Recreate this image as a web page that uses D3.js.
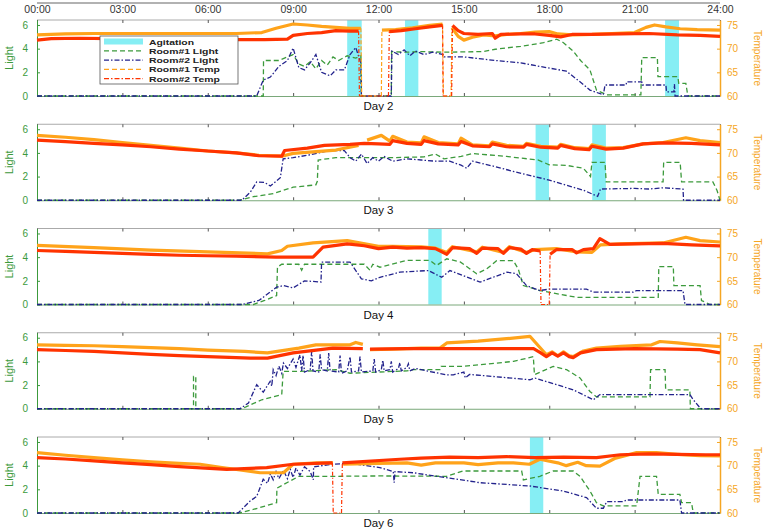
<!DOCTYPE html>
<html>
<head>
<meta charset="utf-8">
<script src="https://d3js.org/d3.v7.min.js"></script>
<style>
body { margin: 0; background: #fff; }
text { font-family: "Liberation Sans", Arial, sans-serif; }
</style>
</head>
<body>
<div id="chart"></div>
<script>

// hour ticks along the top
const hourTicks = [0, 3, 6, 9, 12, 15, 18, 21, 24];
const hourLabels = ["00:00", "03:00", "06:00", "09:00", "12:00", "15:00", "18:00", "21:00", "24:00"];
const lightTicks = [0, 2, 4, 6];
const tempTicks = [60, 65, 70, 75];
const dayNames = ["Day 2", "Day 3", "Day 4", "Day 5", "Day 6"];
const legendNames = ["Agitation", "Room#1 Light", "Room#2 Light", "Room#1 Temp", "Room#2 Temp"];

// [hour, value]  light in sensor units, temp in F (60 = dropout)
const day2Light1 = [[0,0],[7.95,0],[7.96,3.0],[8.5,3.0],[8.8,3.3],[9.0,3.5],[9.2,2.7],[9.4,2.5],[9.6,2.9],[9.8,2.3],[10.0,3.0],[10.2,2.6],[10.4,3.3],[10.6,3.0],[10.9,3.4],[11.2,3.2],[11.38,3.4],[11.4,0],[12.45,0],[12.46,3.75],[13.0,3.7],[13.5,3.75],[14.28,3.7],[15.68,3.75],[16.1,3.95],[17.0,4.2],[17.8,4.5],[18.26,4.8],[18.5,4.5],[18.84,3.8],[19.1,3.0],[19.43,2.2],[19.66,0.5],[20.02,0.1],[21.22,0.1],[21.25,3.24],[21.8,3.24],[21.82,1.63],[22.52,1.63],[22.55,1.07],[22.8,1.07],[22.87,0],[24,0]];
const day2Light2 = [[0,0],[7.72,0],[7.95,1.35],[8.2,1.6],[8.5,2.5],[8.8,3.0],[9.0,4.05],[9.2,2.4],[9.4,2.2],[9.6,2.8],[9.8,3.5],[10.0,2.0],[10.3,1.7],[10.5,2.2],[10.8,2.2],[11.0,3.5],[11.2,4.1],[11.38,2.8],[11.4,0],[12.45,0],[12.47,3.8],[12.7,3.5],[12.9,3.9],[13.1,3.4],[13.3,3.8],[13.6,3.5],[13.9,3.7],[14.28,3.5],[14.3,3.3],[15.0,3.3],[16.1,3.0],[17.0,2.8],[17.67,2.5],[18.6,2.1],[19.08,1.2],[19.43,0.5],[19.9,0.1],[19.96,0.93],[20.7,0.93],[20.72,1.2],[21.25,1.2],[21.27,0.93],[22.1,0.93],[22.12,0.35],[22.38,0.35],[22.4,1.0],[22.42,0],[24,0]];
const day2Temp1 = [[0,72.9],[1,73.1],[2,73.2],[3,73.2],[4,73.2],[5,73.2],[6,73.2],[7,73.2],[7.9,73.4],[8.4,74.3],[9,75.2],[9.5,75.0],[10,74.7],[10.5,74.5],[11,74.3],[11.38,74.3],[11.41,60],[12.1,60],[12.12,73.9],[12.6,74.0],[13.2,74.4],[13.8,74.9],[14.25,75.2],[14.28,60],[14.55,60],[14.58,74.4],[14.8,72.6],[15.0,71.8],[15.3,72.4],[15.7,72.9],[16.1,72.7],[16.5,73.0],[17,73.2],[17.5,73.5],[18.0,73.6],[18.3,73.1],[18.8,72.9],[19.5,73.0],[20.2,73.2],[21,73.4],[21.4,74.5],[21.7,75.0],[22.1,74.6],[22.6,74.2],[23.2,74.0],[24,73.9]];
const day2Temp2 = [[0,71.8],[0.5,72.1],[1.5,72.2],[2.5,72.1],[3.5,72.2],[4.5,72.2],[5.5,72.2],[6.5,72.2],[7.0,71.9],[8.0,71.9],[8.8,72.0],[9.0,72.8],[9.5,73.2],[10,73.4],[10.5,73.8],[11.0,73.7],[11.3,73.7],[11.33,60],[12.35,60],[12.38,73.6],[12.8,73.8],[13.3,74.2],[13.8,74.6],[14.25,74.9],[14.27,60],[14.57,60],[14.6,74.9],[14.8,73.8],[15.0,73.2],[15.5,73.0],[16.0,73.2],[16.1,72.2],[16.3,73.0],[17,73.1],[17.5,73.1],[18.0,72.8],[18.4,72.5],[18.8,73.0],[19.5,73.0],[20.5,73.1],[21.5,73.2],[22.5,72.9],[23.3,72.8],[24,72.6]];
const day2Agitation = [[10.9,11.41],[12.93,13.4],[22.07,22.56]];

const day3Light1 = [[0,0],[7.13,0],[7.6,0.3],[8.3,0.56],[9.0,1.1],[9.8,1.3],[9.85,1.6],[9.88,3.4],[10.5,3.6],[11.5,3.6],[12.5,3.6],[13.6,3.66],[14.0,3.9],[14.3,3.5],[14.9,3.7],[15.3,3.95],[16.5,3.7],[17.6,3.4],[18.0,3.0],[18.6,2.95],[19.2,2.7],[19.45,2.0],[19.5,3.2],[19.96,3.2],[20.0,1.55],[22.0,1.55],[22.02,3.2],[22.6,3.2],[22.65,1.55],[23.75,1.55],[23.9,0.8],[24,0]];
const day3Light2 = [[0,0],[7.2,0],[7.5,0.7],[7.72,1.55],[8.0,1.5],[8.2,1.2],[8.55,1.9],[8.65,3.5],[9,3.6],[9.5,3.8],[10.3,4.2],[10.8,4.2],[11.0,3.6],[11.2,3.3],[11.4,3.9],[11.6,3.1],[11.8,3.6],[12.0,3.3],[12.2,3.7],[12.5,3.3],[13.0,3.5],[13.5,3.4],[14.0,3.3],[14.5,3.3],[14.9,2.96],[15.1,2.7],[15.3,3.3],[16.0,2.9],[16.8,2.4],[18.0,1.7],[19.2,0.85],[19.7,0.33],[19.8,0.95],[21.0,1.0],[21.5,0.95],[22.0,1.05],[22.7,0.95],[22.72,0],[24,0]];
const day3Temp1 = [[0,73.7],[1,73.3],[2,72.8],[3,72.2],[4,71.6],[5,71.0],[6,70.4],[7,70.0],[7.8,69.5],[8.6,69.3],[9,69.9],[10.5,70.6],[11.3,71.6],[11.4,null],[11.6,72.7],[12.1,73.7],[12.4,72.5],[12.5,73.5],[13.0,72.3],[13.5,72.1],[13.6,73.4],[14.1,72.2],[14.8,71.9],[14.9,73.1],[15.3,71.7],[15.9,71.5],[16.0,72.3],[16.5,71.6],[17.1,71.4],[17.2,72.0],[17.7,71.4],[18.3,71.2],[18.4,71.8],[18.9,71.1],[19.4,70.9],[19.5,71.7],[20,71.0],[20.6,71.1],[21.3,71.9],[22,72.2],[22.8,73.2],[23.3,72.6],[24,72.2]];
const day3Temp2 = [[0,72.7],[1,72.4],[2,72.0],[3,71.7],[4,71.3],[5,70.8],[6,70.4],[7,70.0],[7.8,69.4],[8.6,69.3],[8.7,70.5],[9.5,71.0],[10.1,71.6],[11,71.8],[11.5,72.0],[12,71.9],[12.4,71.8],[12.5,72.6],[13.0,72.0],[13.5,71.8],[13.6,72.6],[14.1,71.9],[14.8,71.7],[14.9,72.4],[15.3,71.5],[15.9,71.3],[16.0,71.9],[16.5,71.3],[17.1,71.2],[17.2,71.8],[17.7,71.2],[18.3,71.0],[18.4,71.6],[18.9,70.9],[19.4,70.7],[19.5,71.4],[20,70.8],[20.6,71.0],[21.3,71.9],[22,72.1],[23,72.0],[24,71.7]];
const day3Agitation = [[17.52,17.99],[19.51,19.99]];

const day4Light1 = [[0,0],[7.6,0],[8.0,0.34],[8.42,0.75],[8.45,3.16],[8.6,3.4],[9.2,3.4],[9.3,2.9],[9.4,3.4],[11.5,3.4],[11.7,2.9],[11.8,3.4],[12.05,3.15],[12.99,3.72],[13.81,3.72],[14.04,3.3],[14.4,3.86],[14.87,3.6],[15.45,2.6],[15.8,3.0],[16.15,3.7],[16.74,3.7],[16.91,3.0],[17.09,1.6],[17.67,1.18],[18.61,0.76],[19.0,0.6],[21.83,0.6],[21.85,3.2],[22.36,3.2],[22.38,1.6],[23.3,1.6],[23.35,0.34],[23.65,0],[24,0]];
const day4Light2 = [[0,0],[7.2,0],[7.8,0.34],[8.42,1.46],[8.66,1.6],[9.0,1.4],[9.4,2.0],[9.98,1.9],[10.0,3.58],[11.0,3.58],[11.4,2.17],[11.75,2.0],[12.05,2.3],[12.75,2.73],[13.75,2.87],[14.22,2.3],[14.51,2.87],[15.57,1.89],[16.51,2.73],[16.85,2.6],[17.2,1.6],[17.67,1.18],[18.0,1.3],[19.31,1.3],[19.55,1.04],[20.95,1.04],[21.07,1.18],[22.7,1.18],[22.77,0],[24,0]];
const day4Temp1 = [[0,72.5],[2,72.0],[4,71.5],[6,71.1],[8.1,70.7],[8.6,71.4],[8.8,72.3],[9.7,73.0],[10.9,73.5],[12,72.3],[12.5,72.3],[13.5,72.2],[14.0,71.9],[14.4,71.0],[14.6,72.2],[15.45,71.1],[15.65,72.1],[16.39,71.0],[16.6,72.2],[17.2,71.0],[17.5,71.6],[18.26,71.8],[18.96,71.1],[19.5,71.0],[19.8,72.6],[20.5,72.8],[22,73.0],[22.8,74.2],[23.3,73.5],[24,73.2]];
const day4Temp2 = [[0,71.4],[1,71.2],[2,71.0],[3,70.8],[4,70.6],[5,70.4],[6,70.3],[7,70.2],[8.4,70.0],[9.7,70.0],[10.05,72.1],[10.9,72.8],[11.5,72.4],[12,71.8],[12.5,72.1],[13.0,71.9],[13.5,72.0],[14.0,71.8],[14.4,70.6],[14.6,72.0],[15.2,71.8],[15.45,70.8],[15.65,71.9],[16.2,71.8],[16.39,70.8],[16.6,72.0],[17.0,71.7],[17.2,70.8],[17.4,71.6],[17.68,71.3],[17.71,60],[18.0,60],[18.03,70.6],[18.26,71.6],[18.8,71.6],[18.96,70.9],[19.2,71.6],[19.55,71.8],[19.78,73.9],[20.13,72.7],[21,72.8],[22,72.9],[23,72.6],[24,72.4]];
const day4Agitation = [[13.75,14.22]];

const day5Light1 = [[0,0],[5.5,0],[5.5,2.73],[5.58,2.73],[5.58,0],[7.2,0],[7.9,0.76],[8.6,1.2],[8.65,3.15],[9.2,3.15],[10.5,3.3],[11.0,3.0],[12.0,3.1],[13.0,3.2],[13.22,3.3],[14.16,3.3],[14.2,3.58],[14.98,3.58],[16.74,4.0],[17.44,4.4],[17.48,2.87],[18.14,3.58],[18.61,3.3],[19.08,2.6],[19.43,1.46],[19.66,1.0],[21.54,1.0],[21.56,3.3],[22.07,3.3],[22.09,1.6],[22.94,1.6],[22.96,0],[24,0]];
const day5Light2 = [[0,0],[7.13,0],[7.43,0.48],[7.72,2.03],[7.95,1.4],[8.19,2.3],[8.25,1.9],[8.3,3.3],[8.4,2.8],[8.5,3.6],[8.6,3.0],[8.66,3.86],[8.8,3.4],[9.0,4.2],[9.1,3.5],[9.24,4.56],[9.3,3.2],[9.35,4.5],[9.4,3.1],[9.6,3.3],[9.65,4.8],[9.7,3.2],[9.9,3.1],[9.95,4.6],[10.0,3.3],[10.2,3.2],[10.25,4.7],[10.3,3.2],[10.6,3.1],[10.65,4.5],[10.7,3.0],[10.9,3.2],[11.0,4.4],[11.05,3.1],[11.3,3.2],[11.35,4.4],[11.4,3.1],[11.8,3.2],[11.85,4.2],[11.9,3.1],[12.1,3.3],[12.15,4.1],[12.2,3.2],[12.4,3.3],[12.45,4.0],[12.5,3.1],[12.7,3.4],[12.75,3.9],[12.8,3.2],[13.0,3.5],[13.05,3.8],[13.1,3.2],[13.3,3.4],[13.5,3.3],[13.69,3.2],[14.39,2.87],[14.63,2.87],[15.0,3.1],[15.05,2.6],[15.2,2.9],[17.32,2.45],[17.5,2.59],[18.26,2.03],[18.84,1.6],[19.55,0.76],[19.78,1.2],[22.94,1.2],[23.06,0.76],[23.3,0.07],[23.35,0],[24,0]];
const day5Temp1 = [[0,73.5],[1,73.4],[2,73.3],[3,73.1],[4,72.9],[5,72.7],[6,72.4],[7.3,72.1],[8.1,71.8],[9.2,72.8],[9.8,73.5],[11.0,73.5],[11.2,74.0],[11.45,73.6],[11.5,null],[11.7,72.5],[12.5,72.6],[13.5,72.8],[14.16,72.8],[14.4,73.9],[15.5,74.3],[16.5,74.8],[17.32,75.3],[17.9,71.4],[18.1,72.0],[18.3,71.2],[18.5,72.0],[18.7,71.2],[18.84,71.0],[19.2,72.2],[19.66,72.8],[20.5,73.2],[21.6,73.5],[21.89,74.2],[22.5,73.9],[23.2,73.5],[24,73.1]];
const day5Temp2 = [[0,72.5],[1,72.3],[2,72.1],[3,71.8],[4,71.5],[5,71.2],[6,71.0],[7.5,70.7],[8.1,70.7],[9.0,71.8],[10.4,72.8],[11.45,72.7],[11.5,null],[11.7,72.6],[13,72.7],[15,72.7],[17.45,72.7],[17.7,71.8],[17.9,71.0],[18.1,71.8],[18.3,71.1],[18.5,71.8],[18.7,71.0],[18.84,70.8],[19.1,71.8],[19.66,72.5],[21,72.7],[22.5,72.6],[23.3,72.5],[24,71.8]];
const day5Agitation = [];

const day6Light1 = [[0,0],[7.13,0],[7.6,0.3],[8.42,0.87],[8.43,2.1],[9.2,3.1],[10.5,3.1],[12.05,3.13],[14.39,3.1],[14.98,3.55],[17.03,3.55],[17.09,2.8],[17.67,3.1],[18.14,3.55],[18.84,3.55],[19.08,3.1],[19.43,1.86],[19.66,0.87],[19.9,0.6],[21.07,0.6],[21.19,3.1],[21.77,3.1],[21.83,1.58],[22.59,1.58],[22.65,0.87],[23.0,0.87],[23.06,0],[24,0]];
const day6Light2 = [[0,0],[7.07,0],[7.48,1.0],[7.72,1.4],[7.95,2.85],[8.1,2.5],[8.2,3.3],[8.3,2.8],[8.4,3.5],[8.5,2.9],[8.66,3.6],[8.8,2.9],[8.9,3.7],[9.0,3.0],[9.1,3.8],[9.24,3.2],[9.4,3.9],[9.6,3.5],[9.71,2.8],[9.72,3.9],[10.3,4.1],[11,4.2],[12.05,3.83],[12.52,3.5],[12.55,2.56],[12.58,3.5],[13.22,3.4],[15.57,2.56],[17.32,2.28],[18.49,1.86],[19.31,1.3],[19.66,0.4],[19.9,0.4],[20.02,0.96],[20.6,0.96],[20.72,1.1],[22.59,1.1],[22.65,0],[24,0]];
const day6Temp1 = [[0,72.75],[1,72.2],[2,71.7],[3,71.2],[4,70.8],[5,70.5],[5.73,70.3],[6.5,69.6],[7.84,68.5],[8.66,68.5],[9.0,70.3],[9.83,70.6],[10.4,70.6],[10.5,null],[10.76,70.3],[12,70.5],[13,70.6],[13.5,70.1],[14,70.6],[15,70.6],[15.5,70.2],[16.2,70.6],[16.74,70.6],[17.3,70.3],[17.67,71.35],[18.3,70.6],[18.6,70.0],[19.0,70.7],[19.3,70.0],[19.78,69.9],[20.3,71.5],[21.07,72.75],[21.77,72.75],[22.5,72.4],[23.3,72.1],[24,72.05]];
const day6Temp2 = [[0,71.7],[1,71.4],[2,71.0],[3,70.6],[4,70.2],[5,69.8],[6.67,69.2],[8.07,69.6],[9.0,70.3],[10.3,70.6],[10.38,70.6],[10.41,60],[10.7,60],[10.73,70.6],[12.75,71.35],[13.5,71.6],[14.5,71.8],[15.5,71.7],[16.5,71.9],[17.5,71.7],[18.5,71.8],[19.66,71.7],[20.5,72.3],[21.5,72.5],[22.5,72.4],[23.5,72.3],[24,72.3]];
const day6Agitation = [[17.32,17.79]];

//////////////////////////////////////////////////////////////////////////////

const
svgWidth = 768,
svgHeight = 529;

const plotLeft = 37,
plotRight = 720;

const panelTops = [20, 124.25, 228.5, 332.75, 437];
const panelHeight = 76;

const colors = {
  agitation: "#86eef4",
  light1: "#3c9a3c",
  light2: "#23238c",
  temp1: "#ffa31a",
  temp2: "#ff3300",
  lightAxis: "#3c9a3c",
  tempAxis: "#f5a623"
};

const panels = [
  {light1: day2Light1, light2: day2Light2, temp1: day2Temp1, temp2: day2Temp2, agitation: day2Agitation},
  {light1: day3Light1, light2: day3Light2, temp1: day3Temp1, temp2: day3Temp2, agitation: day3Agitation},
  {light1: day4Light1, light2: day4Light2, temp1: day4Temp1, temp2: day4Temp2, agitation: day4Agitation},
  {light1: day5Light1, light2: day5Light2, temp1: day5Temp1, temp2: day5Temp2, agitation: day5Agitation},
  {light1: day6Light1, light2: day6Light2, temp1: day6Temp1, temp2: day6Temp2, agitation: day6Agitation}
];

const svg = d3.select("#chart")
.append("svg")
.attr("width", svgWidth)
.attr("height", svgHeight);

const xScale = d3.scaleLinear()
.domain([0, 24])
.range([plotLeft, plotRight]);

//////////////////////////////////////////////////////////////////////////////
// time labels across the top

svg.append("line")
.attr("x1", plotLeft).attr("x2", plotRight)
.attr("y1", 3).attr("y2", 3)
.attr("stroke", "#999")
.attr("stroke-width", 1.5);

const topAxis = svg.append("g")
.attr("transform", "translate(0, 16)")
.call(d3.axisTop(xScale)
  .tickValues(hourTicks)
  .tickSize(0)
  .tickPadding(3)
  .tickFormat((d, i) => hourLabels[i]));

topAxis.select(".domain").remove();
topAxis.selectAll("text")
.attr("font-size", 10.5)
.attr("fill", "#333")
.style("font-family", "Liberation Sans, Arial, sans-serif");

//////////////////////////////////////////////////////////////////////////////

function dropSegments(data) {
  // pieces of a temp series that touch the floor (sensor dropouts)
  const segs = [];
  for (let i = 1; i < data.length; i++) {
    const a = data[i - 1], b = data[i];
    if (a[1] === null || b[1] === null) continue;
    if (a[1] <= 60 || b[1] <= 60) segs.push([a, b]);
  }
  return segs;
}

panels.forEach(function(p, i) {
  const top = panelTops[i];
  const bottom = top + panelHeight;

  const lightScale = d3.scaleLinear()
  .domain([0, 6.42])
  .range([bottom, top]);

  const tempScale = d3.scaleLinear()
  .domain([60, 76.05])
  .range([bottom, top]);

  const g = svg.append("g");

  // agitation bands
  g.selectAll(".band")
  .data(p.agitation)
  .enter()
  .append("rect")
  .attr("x", d => xScale(d[0]))
  .attr("width", d => xScale(d[1]) - xScale(d[0]))
  .attr("y", top)
  .attr("height", panelHeight)
  .attr("fill", colors.agitation);

  // frame
  g.append("line")
  .attr("x1", plotLeft).attr("x2", plotRight)
  .attr("y1", top).attr("y2", top)
  .attr("stroke", "#aaa");

  const bottomAxis = g.append("g")
  .attr("transform", `translate(0, ${bottom})`)
  .call(d3.axisBottom(xScale).tickValues(hourTicks).tickSizeInner(-3).tickSizeOuter(0).tickFormat(""));
  bottomAxis.select(".domain").attr("stroke", "#7aa87a");
  bottomAxis.selectAll(".tick line").attr("stroke", "#555");

  const topTicks = g.append("g")
  .attr("transform", `translate(0, ${top})`)
  .call(d3.axisTop(xScale).tickValues(hourTicks).tickSizeInner(-3).tickSizeOuter(0).tickFormat(""));
  topTicks.select(".domain").remove();
  topTicks.selectAll(".tick line").attr("stroke", "#555");

  const leftAxis = g.append("g")
  .attr("transform", `translate(${plotLeft}, 0)`)
  .call(d3.axisLeft(lightScale).tickValues(lightTicks).tickSizeInner(-3).tickSizeOuter(0).tickPadding(9).tickFormat(d3.format("d")));
  leftAxis.select(".domain").attr("stroke", colors.lightAxis);
  leftAxis.selectAll(".tick line").attr("stroke", colors.lightAxis);
  leftAxis.selectAll("text")
  .attr("fill", colors.lightAxis)
  .attr("font-size", 10)
  .style("font-family", "Liberation Sans, Arial, sans-serif");

  const rightAxis = g.append("g")
  .attr("transform", `translate(${plotRight}, 0)`)
  .call(d3.axisRight(tempScale).tickValues(tempTicks).tickSizeInner(-3).tickSizeOuter(0).tickPadding(7));
  rightAxis.select(".domain").attr("stroke", colors.tempAxis).attr("stroke-width", 1.5);
  rightAxis.selectAll(".tick line").attr("stroke", colors.tempAxis);
  rightAxis.selectAll("text")
  .attr("fill", colors.tempAxis)
  .attr("font-size", 10)
  .style("font-family", "Liberation Sans, Arial, sans-serif");

  // light series
  const lightLine = d3.line()
  .x(d => xScale(d[0]))
  .y(d => lightScale(d[1]));

  g.append("path")
  .datum(p.light1)
  .attr("d", lightLine)
  .attr("fill", "none")
  .attr("stroke", colors.light1)
  .attr("stroke-width", 1.3)
  .attr("stroke-dasharray", "5,3");

  g.append("path")
  .datum(p.light2)
  .attr("d", lightLine)
  .attr("fill", "none")
  .attr("stroke", colors.light2)
  .attr("stroke-width", 1.3)
  .attr("stroke-dasharray", "5,2,1.5,2");

  // temp series (solid where the sensor reads, dashed where it drops out)
  const tempLine = d3.line()
  .defined(d => d[1] !== null && d[1] > 60)
  .x(d => xScale(d[0]))
  .y(d => tempScale(d[1]));

  [["temp1", "4,2"], ["temp2", "4,2,1,2"]].forEach(function(s) {
    g.selectAll(".drop-" + s[0])
    .data(dropSegments(p[s[0]]))
    .enter()
    .append("line")
    .attr("x1", d => xScale(d[0][0]))
    .attr("y1", d => tempScale(d[0][1]))
    .attr("x2", d => xScale(d[1][0]))
    .attr("y2", d => tempScale(d[1][1]))
    .attr("stroke", colors[s[0]])
    .attr("stroke-width", 1.2)
    .attr("stroke-dasharray", s[1]);

    g.append("path")
    .datum(p[s[0]])
    .attr("d", tempLine)
    .attr("fill", "none")
    .attr("stroke", colors[s[0]])
    .attr("stroke-width", 3.2)
    .attr("stroke-linejoin", "round");
  });

  // labels
  g.append("text")
  .attr("x", (plotLeft + plotRight) / 2)
  .attr("y", bottom + 14)
  .attr("text-anchor", "middle")
  .attr("font-size", 11.5)
  .attr("fill", "#111")
  .text(dayNames[i]);

  g.append("text")
  .attr("transform", `translate(13, ${top + panelHeight / 2}) rotate(-90)`)
  .attr("text-anchor", "middle")
  .attr("font-size", 11)
  .attr("fill", colors.lightAxis)
  .text("Light");

  g.append("text")
  .attr("transform", `translate(754, ${top + panelHeight / 2}) rotate(90)`)
  .attr("text-anchor", "middle")
  .attr("font-size", 10)
  .attr("fill", colors.tempAxis)
  .text("Temperature");
});

//////////////////////////////////////////////////////////////////////////////
// legend

const legend = svg.append("g")
.attr("transform", "translate(100, 36)");

legend.append("rect")
.attr("width", 138)
.attr("height", 48)
.attr("fill", "#fff")
.attr("stroke", "#555")
.attr("stroke-width", 0.8);

const legendStyles = [
  {color: colors.agitation, width: 6, dash: null},
  {color: colors.light1, width: 1.2, dash: "5,3"},
  {color: colors.light2, width: 1.2, dash: "5,2,1.5,2"},
  {color: colors.temp1, width: 1.2, dash: "5,3"},
  {color: colors.temp2, width: 1.2, dash: "5,2,1.5,2"}
];

legendNames.forEach(function(name, i) {
  const y = 5.5 + i * 9.3;
  legend.append("line")
  .attr("x1", 4).attr("x2", 43)
  .attr("y1", y).attr("y2", y)
  .attr("stroke", legendStyles[i].color)
  .attr("stroke-width", legendStyles[i].width)
  .attr("stroke-dasharray", legendStyles[i].dash);

  // the legend type is set wide, so stretch it sideways
  legend.append("text")
  .attr("transform", `translate(49, ${y + 3}) scale(1.3, 1)`)
  .attr("font-size", 8)
  .attr("font-weight", "bold")
  .attr("fill", "#222")
  .text(name);
});

</script>
</body>
</html>
